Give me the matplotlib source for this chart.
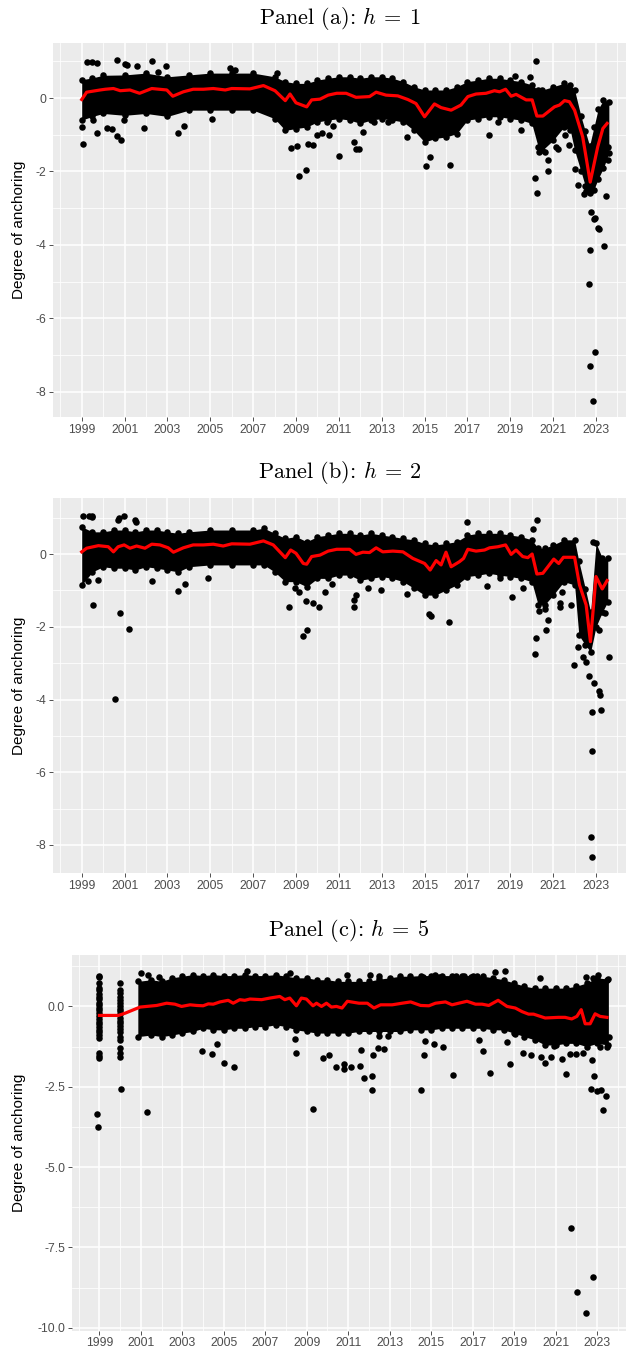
import numpy as np
import matplotlib
matplotlib.use("Agg")
import matplotlib.pyplot as plt
from matplotlib.ticker import MultipleLocator, FixedLocator, FormatStrFormatter

plt.rcParams['font.family'] = ['Liberation Sans', 'DejaVu Sans']
plt.rcParams['mathtext.fontset'] = 'cm'

# ---------------- panel (a): h = 1 ----------------
a_line_t = [1999.0, 1999.23, 1999.86, 2000.1, 2000.48, 2000.8, 2001.25, 2001.7, 2002.27, 2002.97,
            2003.25, 2003.74, 2004.2, 2004.68, 2005.14, 2005.7, 2006.0, 2006.85, 2007.48, 2008.02,
            2008.5, 2008.72, 2009.0, 2009.5, 2009.73, 2010.12, 2010.5, 2010.9, 2011.34, 2011.8,
            2012.43, 2012.74, 2013.2, 2013.75, 2014.22, 2014.6, 2015.0, 2015.46, 2015.77, 2016.24,
            2016.7, 2017.02, 2017.4, 2017.87, 2018.26, 2018.5, 2018.78, 2019.04, 2019.27, 2019.74,
            2020.02, 2020.24, 2020.52, 2021.06, 2021.3, 2021.53, 2021.76, 2022.0, 2022.38, 2022.73,
            2023.08, 2023.32, 2023.52]
a_line_v = [-0.04, 0.16, 0.22, 0.24, 0.26, 0.20, 0.22, 0.13, 0.26, 0.22,
            0.05, 0.17, 0.24, 0.24, 0.26, 0.22, 0.26, 0.25, 0.34, 0.20,
            -0.07, 0.11, -0.13, -0.24, -0.05, -0.03, 0.08, 0.13, 0.13, 0.02,
            0.04, 0.16, 0.08, 0.06, -0.04, -0.15, -0.51, -0.16, -0.26, -0.33,
            -0.19, 0.04, 0.11, 0.13, 0.20, 0.17, 0.24, 0.05, 0.10, -0.05,
            -0.05, -0.49, -0.49, -0.24, -0.19, -0.07, -0.10, -0.33, -1.06, -2.29,
            -1.33, -0.83, -0.69]
a_band_t = [1999.0, 1999.5, 2000, 2001, 2002, 2003, 2004, 2005, 2006, 2007,
            2008, 2008.5, 2009, 2009.5, 2010, 2010.5, 2011, 2011.5, 2012, 2012.5,
            2013, 2013.5, 2014, 2014.5, 2015, 2015.5, 2016, 2016.5, 2017, 2017.5,
            2018, 2018.5, 2019, 2019.5, 2020, 2020.3, 2020.5, 2021, 2021.5, 2021.8,
            2022, 2022.3, 2022.5, 2022.7, 2022.9, 2023.1, 2023.35, 2023.6]
a_band_hi = [0.5, 0.55, 0.62, 0.63, 0.68, 0.58, 0.63, 0.68, 0.68, 0.68,
             0.58, 0.45, 0.40, 0.40, 0.49, 0.54, 0.58, 0.58, 0.54, 0.58,
             0.58, 0.54, 0.45, 0.31, 0.22, 0.22, 0.22, 0.31, 0.45, 0.49,
             0.54, 0.54, 0.49, 0.45, 0.36, 0.22, 0.22, 0.31, 0.40, 0.36,
             0.22, -0.5, -0.9, -1.3, -0.8, -0.3, -0.05, -0.1]
a_band_lo = [-0.6, -0.5, -0.42, -0.47, -0.42, -0.5, -0.33, -0.33, -0.33, -0.33,
             -0.56, -0.88, -0.83, -0.79, -0.65, -0.6, -0.56, -0.6, -0.69, -0.6,
             -0.56, -0.6, -0.65, -0.88, -1.2, -1.1, -1.06, -0.97, -0.6, -0.56,
             -0.51, -0.51, -0.56, -0.6, -0.69, -1.33, -1.42, -1.15, -0.79, -0.88,
             -1.42, -2.0, -2.4, -2.6, -2.5, -2.2, -1.9, -1.5]
a_out_t = [1999.08, 1999.0, 1999.7, 1999.54, 2000.17, 2000.4, 2000.63, 2000.82, 2000.97, 2001.9,
           2003.5, 2003.79, 2005.07, 2008.77, 2009.05, 2009.16, 2009.45, 2009.54, 2009.8, 2010.0,
           2010.2, 2010.55, 2011.0, 2010.74, 2010.43,
           1999.23, 1999.47, 1999.7, 2000.63, 2001.1, 2001.57, 2002.3, 2002.93, 2001.0, 2005.92,
           2006.15, 2002.58, 2008.1,
           2011.73, 2011.78, 2011.96, 2012.12, 2012.66, 2013.29, 2014.19, 2015.07, 2015.26, 2016.21,
           2018.0, 2018.42, 2019.48, 2020.18, 2019.2, 2019.94, 2020.16, 2020.27, 2020.36, 2020.6,
           2020.75, 2020.78, 2021.14, 2021.22, 2021.56, 2021.76, 2022.0, 2022.15, 2022.46, 2022.54,
           2022.74, 2022.77, 2022.93, 2023.16, 2023.47,
           2022.73, 2022.69, 2022.73, 2022.97, 2022.86, 2023.37, 2023.1, 2022.95, 2023.55, 2023.55]
a_out_v = [-1.26, -0.8, -0.94, -0.6, -0.81, -0.83, -1.04, -1.13, -0.6, -0.81,
           -0.94, -0.77, -0.58, -1.36, -1.31, -2.12, -1.95, -1.24, -1.27, -1.02,
           -0.95, -1.0, -1.58, -0.77, -0.65,
           0.97, 0.97, 0.95, 1.04, 0.9, 0.86, 1.02, 0.88, 0.93, 0.81,
           0.77, 0.72, 0.68,
           -1.2, -1.38, -1.38, -0.92, -0.65, -0.65, -1.06, -1.84, -1.61, -1.82,
           -1.0, -0.65, -0.86, 1.0, 0.61, 0.57, -2.17, -2.6, -1.47, -1.47,
           -1.7, -2.0, -1.33, -1.38, -1.01, -1.29, -1.93, -2.37, -2.61, -2.52,
           -2.57, -3.1, -3.3, -3.57, -2.68,
           -4.14, -5.06, -7.29, -6.93, -8.25, -4.02, -3.53, -3.27, -1.68, -1.32]

# ---------------- panel (b): h = 2 ----------------
b_line_t = [1999.0, 1999.23, 1999.78, 2000.24, 2000.48, 2000.7, 2000.98, 2001.25, 2001.56, 2001.95,
            2002.27, 2002.65, 2003.04, 2003.28, 2003.74, 2004.2, 2004.68, 2005.14, 2005.6, 2006.0,
            2006.85, 2007.48, 2007.94, 2008.5, 2008.75, 2009.0, 2009.34, 2009.5, 2009.73, 2010.12,
            2010.5, 2010.9, 2011.5, 2011.8, 2012.12, 2012.43, 2012.74, 2013.05, 2013.52, 2013.99,
            2014.45, 2015.0, 2015.26, 2015.54, 2015.77, 2016.0, 2016.24, 2016.63, 2016.82, 2017.02,
            2017.4, 2017.8, 2018.03, 2018.42, 2018.78, 2019.04, 2019.27, 2019.58, 2019.82, 2020.02,
            2020.24, 2020.52, 2021.03, 2021.26, 2021.48, 2022.0, 2022.23, 2022.54, 2022.74, 2023.0,
            2023.29, 2023.52]
b_line_v = [0.06, 0.16, 0.23, 0.20, 0.06, 0.20, 0.25, 0.16, 0.22, 0.16,
            0.27, 0.25, 0.17, 0.05, 0.17, 0.25, 0.25, 0.27, 0.22, 0.28,
            0.27, 0.36, 0.25, -0.10, 0.11, 0.02, -0.26, -0.28, -0.07, -0.03,
            0.08, 0.13, 0.13, -0.01, 0.05, 0.04, 0.17, 0.06, 0.08, 0.06,
            -0.12, -0.26, -0.44, -0.18, -0.30, 0.05, -0.35, -0.21, -0.12, 0.13,
            0.08, 0.11, 0.17, 0.20, 0.25, -0.01, 0.11, -0.07, -0.10, 0.0,
            -0.55, -0.53, -0.14, -0.26, -0.09, -0.09, -0.85, -1.40, -2.41, -0.62,
            -0.96, -0.73]
b_band_t = [1999.0, 1999.5, 2000, 2000.5, 2001, 2001.5, 2002, 2002.5, 2003, 2003.5,
            2004, 2005, 2006, 2007, 2007.5, 2008, 2008.5, 2009, 2009.5, 2010,
            2010.5, 2011, 2011.5, 2012, 2012.5, 2013, 2013.5, 2014, 2014.5, 2015,
            2015.5, 2016, 2016.5, 2017, 2017.5, 2018, 2018.5, 2019, 2019.5, 2020,
            2020.3, 2020.6, 2021, 2021.5, 2022, 2022.2, 2022.5, 2022.75, 2023.0, 2023.3,
            2023.55]
b_band_hi = [0.75, 0.61, 0.61, 0.66, 0.66, 0.61, 0.66, 0.66, 0.61, 0.57,
             0.61, 0.66, 0.66, 0.66, 0.71, 0.57, 0.43, 0.48, 0.34, 0.48,
             0.52, 0.57, 0.57, 0.52, 0.57, 0.52, 0.48, 0.43, 0.39, 0.29,
             0.25, 0.29, 0.34, 0.52, 0.57, 0.57, 0.57, 0.52, 0.48, 0.39,
             0.16, 0.16, 0.25, 0.39, 0.39, -0.2, -0.95, -1.6, 0.3, -0.12,
             -0.12]
b_band_lo = [-0.85, -0.49, -0.35, -0.39, -0.39, -0.44, -0.35, -0.39, -0.44, -0.49,
             -0.35, -0.3, -0.3, -0.3, -0.3, -0.49, -0.76, -0.76, -0.9, -0.67,
             -0.67, -0.58, -0.58, -0.72, -0.67, -0.62, -0.67, -0.76, -0.94, -1.13,
             -1.13, -0.99, -0.85, -0.62, -0.58, -0.53, -0.58, -0.62, -0.67, -0.76,
             -1.4, -1.4, -1.13, -0.76, -0.85, -2.23, -2.5, -2.69, -2.0, -1.59,
             -1.31]
b_out_t = [1999.08, 1999.36, 1999.47, 1999.5, 2000.76, 2000.98, 2001.49, 2001.54, 2000.7,
           1999.54, 2000.79, 2001.21, 1999.31, 1999.78, 2002.27, 2003.51, 2003.82, 2004.91, 2008.67,
           2008.95, 2009.16, 2009.31, 2009.5, 2009.47, 2009.81, 2010.06, 2010.36, 2010.66, 2000.57,
           2011.73, 2011.7, 2011.8, 2012.35, 2012.98, 2014.17, 2015.23, 2015.28, 2016.16, 2016.99,
           2017.92, 2018.5, 2019.07, 2019.58, 2020.05, 2020.24, 2020.21, 2020.16, 2020.32, 2020.6,
           2020.67, 2020.75, 2021.3, 2021.34, 2021.84, 2021.42, 2021.96, 2022.18, 2022.38, 2022.54,
           2022.66, 2022.9, 2022.85, 2023.16, 2023.4, 2023.6,
           2022.8, 2022.82, 2022.75, 2022.82, 2023.25, 2023.18, 2023.14]
b_out_v = [1.05, 1.05, 1.05, 1.02, 1.0, 1.05, 0.94, 0.89, 0.94,
           -1.39, -1.61, -2.07, -0.74, -0.72, -0.74, -1.01, -0.83, -0.65, -1.47,
           -0.93, -1.04, -2.26, -2.09, -1.29, -1.36, -1.47, -1.04, -0.83, -3.98,
           -1.27, -1.47, -1.13, -0.94, -0.99, -1.11, -1.66, -1.7, -1.88, 0.89,
           -0.88, -0.67, -1.19, -0.93, 0.68, 0.94, -2.3, -2.75, -1.57, -1.5,
           -2.09, -1.82, -1.45, -1.36, -1.39, -1.04, -3.06, -2.55, -2.83, -2.96,
           -3.35, -3.56, 0.34, -2.09, -1.63, -2.83,
           -4.34, -5.41, -7.79, -8.32, -4.29, -3.88, -3.76]

# ---------------- panel (c): h = 5 ----------------
c_line_t = [1999.0, 1999.91, 2000.24, 2000.96, 2001.28, 2001.76, 2002.24, 2002.64, 2002.96, 2003.37,
            2003.69, 2004.0, 2004.25, 2004.49, 2004.81, 2005.21, 2005.45, 2005.77, 2006.01, 2006.26,
            2006.82, 2007.22, 2007.7, 2007.94, 2008.18, 2008.5, 2008.74, 2008.98, 2009.3, 2009.47,
            2009.71, 2009.95, 2010.19, 2010.43, 2010.7, 2010.96, 2011.52, 2011.92, 2012.24, 2012.56,
            2013.12, 2013.6, 2014.01, 2014.49, 2014.89, 2015.21, 2015.69, 2016.01, 2016.33, 2016.73,
            2017.14, 2017.46, 2017.78, 2018.23, 2018.66, 2019.06, 2019.38, 2019.7, 2019.94, 2020.5,
            2021.14, 2021.46, 2021.78, 2022.03, 2022.24, 2022.43, 2022.67, 2022.91, 2023.15, 2023.48]
c_line_v = [-0.28, -0.28, -0.21, -0.02, 0.0, 0.03, 0.10, 0.07, 0.0, 0.05,
            0.03, 0.02, 0.08, 0.07, 0.14, 0.19, 0.10, 0.21, 0.19, 0.23,
            0.21, 0.26, 0.31, 0.21, 0.26, 0.02, 0.26, 0.23, 0.02, 0.10,
            0.0, 0.10, -0.02, 0.0, -0.05, 0.16, 0.10, 0.10, -0.05, 0.05,
            0.05, 0.10, 0.14, 0.03, 0.02, 0.10, 0.14, 0.05, 0.10, 0.16,
            0.07, 0.07, 0.03, 0.19, 0.0, -0.05, -0.16, -0.24, -0.24, -0.36,
            -0.34, -0.34, -0.39, -0.31, -0.10, -0.54, -0.54, -0.23, -0.31, -0.34]
c_band_t = [2000.85, 2001.5, 2002, 2002.5, 2003, 2003.5, 2004, 2004.5, 2005, 2005.5,
            2006, 2006.5, 2007, 2007.5, 2008, 2008.5, 2009, 2009.5, 2010, 2010.5,
            2011, 2011.5, 2012, 2012.5, 2013, 2013.5, 2014, 2014.5, 2015, 2015.5,
            2016, 2016.5, 2017, 2017.5, 2018, 2018.5, 2019, 2019.5, 2020, 2020.5,
            2021, 2021.5, 2022, 2022.5, 2023, 2023.55]
c_band_hi = [0.78, 0.83, 0.78, 0.89, 0.94, 0.99, 0.96, 0.99, 0.96, 0.96,
             0.99, 0.96, 0.96, 0.99, 0.94, 0.89, 0.89, 0.83, 0.83, 0.78,
             0.78, 0.78, 0.78, 0.85, 0.89, 0.94, 0.94, 0.96, 0.96, 0.96,
             0.96, 0.96, 0.96, 0.94, 0.89, 0.83, 0.73, 0.63, 0.57, 0.57,
             0.57, 0.57, 0.63, 0.73, 0.89, 0.85]
c_band_lo = [-0.94, -0.89, -0.94, -0.89, -0.83, -0.78, -0.68, -0.73, -0.73, -0.68,
             -0.68, -0.63, -0.63, -0.57, -0.63, -0.73, -0.78, -0.83, -0.83, -0.83,
             -0.83, -0.78, -0.78, -0.78, -0.78, -0.78, -0.73, -0.73, -0.73, -0.68,
             -0.68, -0.68, -0.68, -0.68, -0.73, -0.73, -0.83, -0.94, -1.04, -1.2,
             -1.2, -1.15, -1.15, -1.25, -1.15, -1.2]
# early years only have a column of points each
c_col_t = [1998.98, 2000.0]
c_col1999_v = [0.95, 0.93, 0.72, 0.58, 0.5, 0.4, 0.3, 0.22, 0.12, 0.05, -0.05, -0.12, -0.2,
               -0.3, -0.38, -0.48, -0.55, -0.65, -0.72, -0.8, -0.9, -0.98, -1.45, -1.55, -1.6]
c_col2000_v = [0.73, 0.5, 0.42, 0.3, 0.2, 0.12, 0.02, -0.08, -0.15, -0.25, -0.35, -0.45,
               -0.52, -0.6, -0.7, -0.8, -0.95, -1.05, -1.3, -1.45, -1.58]
c_out_t = [1998.9, 1998.94, 2000.04, 2001.27, 2009.28, 2021.75, 2022.06, 2022.46, 2022.83, 2023.27,
           2022.69, 2022.98, 2023.2, 2023.42, 2022.85, 2022.75, 2021.5, 2017.84, 2016.07, 2014.53,
           2012.16, 2012.16, 2011.78, 2011.59, 2011.12, 2010.82, 2010.43, 2010.78, 2005.5, 2005.0,
           2004.66, 2004.43, 2003.93, 2008.47, 2008.43, 2009.76, 2010.07, 2018.78, 2014.67, 2017.5,
           2017.3, 2011.6, 2012.2, 2012.43, 2012.72, 2012.5, 2012.9, 2014.71, 2015.16, 2015.59,
           2018.67, 2019.05, 2019.44, 2019.83, 2020.3, 2020.5, 2020.8, 2020.95, 2021.3, 2021.7,
           2021.97, 2022.33, 2023.15, 2023.5, 2023.58,
           2000.98, 2001.33, 2001.85, 2006.1, 2008.18, 2010.93, 2012.03, 2012.47, 2018.09, 2018.57,
           2020.25, 2022.48, 2023.04, 2023.5, 2022.82, 2014.6, 2015.4, 2016.2, 2016.6, 2017.2,
           2016.9, 2015.2]
c_out_v = [-3.36, -3.75, -2.58, -3.29, -3.19, -6.9, -8.88, -9.53, -8.41, -3.22,
           -2.56, -2.63, -2.59, -2.8, -2.15, -1.66, -2.11, -2.08, -2.13, -2.6,
           -2.6, -2.15, -2.23, -1.85, -1.89, -1.94, -1.9, -1.78, -1.89, -1.76,
           -1.16, -1.48, -1.38, -1.44, -1.02, -1.61, -1.52, -1.79, -1.52, -1.38,
           -1.06, -1.35, -1.52, -1.28, -1.32, -0.92, -0.92, -1.09, -1.17, -1.25,
           -1.12, -0.85, -1.44, -1.52, -1.58, -1.76, -1.58, -1.22, -1.63, -1.48,
           -1.48, -1.44, -1.25, -1.25, -0.94,
           1.04, 0.99, 0.9, 1.09, 1.04, 0.99, 0.99, 0.96, 1.06, 1.09,
           0.88, 0.93, 0.99, 0.83, 0.88, 0.93, 0.93, 0.96, 0.96, 0.96,
           0.93, 0.99]

year_ticks = list(range(1999, 2024, 2))
panel_names = ['(a)', '(b)', '(c)']
panel_h = [1, 2, 5]
W, H = 626, 1354
BG = '#EBEBEB'
PT = 22


def style(ax, ylim, ymajor, fmt):
    ax.set_facecolor(BG)
    for s in ax.spines.values():
        s.set_visible(False)
    ax.set_xlim(1997.66, 2024.4)
    ax.set_ylim(*ylim)
    ax.xaxis.set_major_locator(FixedLocator(year_ticks))
    ax.xaxis.set_minor_locator(FixedLocator(list(range(1998, 2025, 2))))
    ax.yaxis.set_major_locator(MultipleLocator(ymajor))
    ax.yaxis.set_minor_locator(MultipleLocator(ymajor / 2))
    ax.yaxis.set_major_formatter(FormatStrFormatter(fmt))
    ax.grid(which='major', color='white', lw=1.1)
    ax.grid(which='minor', color='white', lw=0.55)
    ax.set_axisbelow(True)
    ax.tick_params(which='major', length=2.8, width=0.6, color='#333333',
                   labelsize=8.8, labelcolor='#4D4D4D', pad=2)
    ax.tick_params(which='minor', length=0)
    ax.set_ylabel('Degree of anchoring', fontsize=11)


def panel(ax, line_t, line_v, band_t, band_lo, band_hi, out_t, out_v):
    ax.fill_between(band_t, band_lo, band_hi, color='black', lw=0, zorder=2)
    ax.scatter(band_t, band_hi, s=PT, c='black', lw=0, zorder=2)
    ax.scatter(band_t, band_lo, s=PT, c='black', lw=0, zorder=2)
    ax.scatter(out_t, out_v, s=PT, c='black', lw=0, zorder=2)
    ax.plot(line_t, line_v, color='red', lw=2.3, zorder=3, solid_joinstyle='round')


fig = plt.figure(figsize=(W / 100, H / 100), dpi=100)

ax_a = fig.add_axes([53 / W, 1 - 417 / H, 1 - 53 / W, 374 / H])
panel(ax_a, a_line_t, a_line_v, a_band_t, a_band_lo, a_band_hi, a_out_t, a_out_v)
style(ax_a, (-8.69, 1.5), 2, '%g')

ax_b = fig.add_axes([53 / W, 1 - 873 / H, 1 - 53 / W, 375 / H])
panel(ax_b, b_line_t, b_line_v, b_band_t, b_band_lo, b_band_hi, b_out_t, b_out_v)
style(ax_b, (-8.77, 1.54), 2, '%g')

ax_c = fig.add_axes([71.7 / W, 1 - 1330.7 / H, 1 - 71.7 / W, 375.7 / H])
panel(ax_c, c_line_t, c_line_v, c_band_t, c_band_lo, c_band_hi, c_out_t, c_out_v)
ax_c.scatter([c_col_t[0]] * len(c_col1999_v), c_col1999_v, s=PT, c='black', lw=0, zorder=2)
ax_c.scatter([c_col_t[1]] * len(c_col2000_v), c_col2000_v, s=PT, c='black', lw=0, zorder=2)
style(ax_c, (-10.09, 1.6), 2.5, '%.1f')

for ax in (ax_a, ax_b, ax_c):
    p = ax.get_position()
    ax.yaxis.set_label_coords(-(p.x0 * W - 26) / (p.width * W), 0.5)

for ax, name, h, ty in zip((ax_a, ax_b, ax_c), panel_names, panel_h, (18, 473, 930)):
    p = ax.get_position()
    fig.text(0.5 * (p.x0 + p.x1), 1 - ty / H, 'Panel %s: $h\\:=\\:%d$' % (name, h),
             family='cmr10', ha='center', va='center', fontsize=16)

fig.savefig('out.png', dpi=100)
